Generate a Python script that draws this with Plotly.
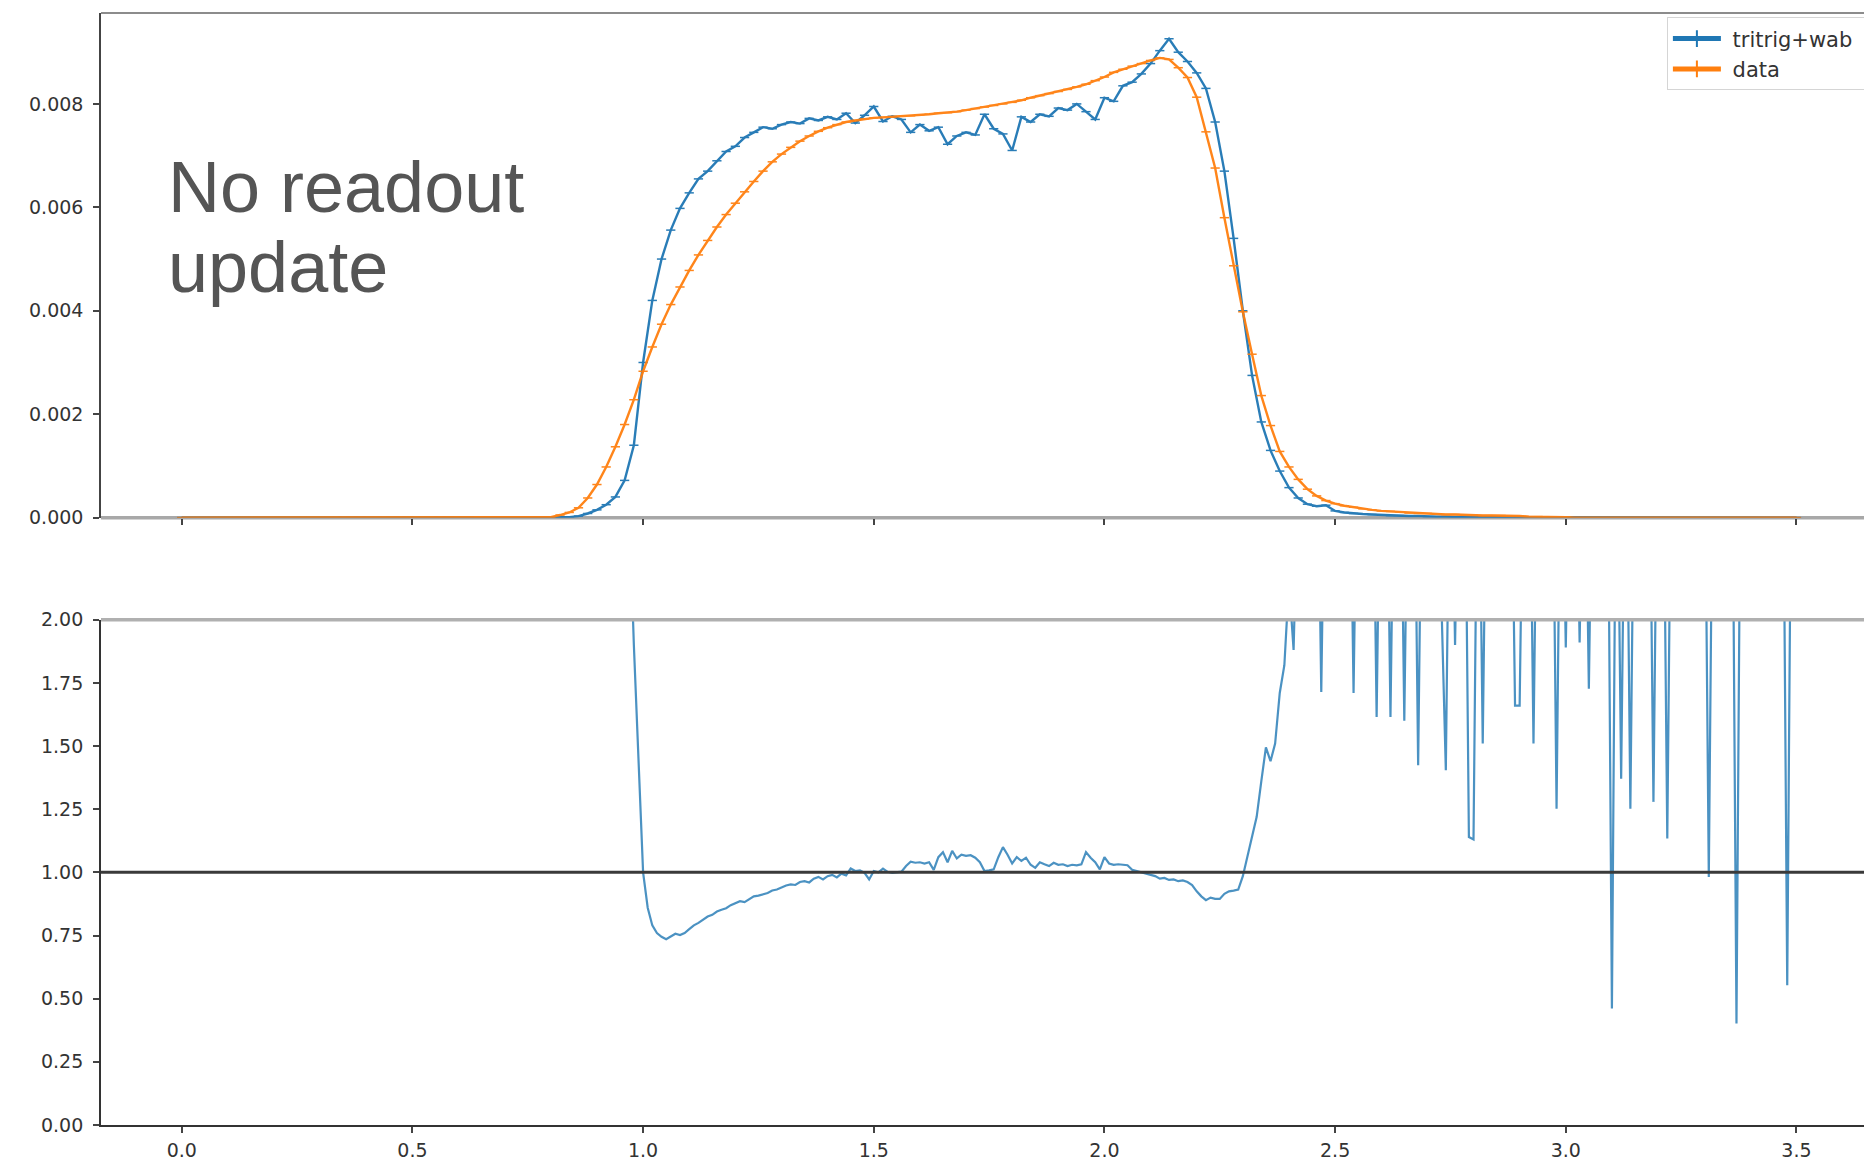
import plotly.graph_objects as go

BLUE = "#1f77b4"
ORANGE = "#ff7f0e"

# ---- upper panel: normalised energy histograms (bin width 0.02) ----
bin_width = 0.02
energy = [round(k * bin_width, 2) for k in range(176)]  # bin centres 0.00 ... 3.50

# tritrig+wab simulation
mc_hist = (
    [0.0] * 42  # 0.00 - 0.82
    + [0.00001, 0.00003, 0.00008, 0.00015, 0.00025, 0.00040, 0.00072, 0.00140, 0.00300, 0.00420]  # 0.84 - 1.02
    + [0.00500, 0.00556, 0.00598, 0.00628, 0.00655, 0.00670, 0.00690, 0.00708, 0.00718, 0.00735]  # 1.04 - 1.22
    + [0.00745, 0.00755, 0.00752, 0.00760, 0.00765, 0.00762, 0.00772, 0.00768, 0.00775, 0.00770]  # 1.24 - 1.42
    + [0.00782, 0.00763, 0.00778, 0.00795, 0.00766, 0.00776, 0.00770, 0.00745, 0.00760, 0.00748]  # 1.44 - 1.62
    + [0.00755, 0.00722, 0.00738, 0.00745, 0.00740, 0.00780, 0.00752, 0.00742, 0.00710, 0.00775]  # 1.64 - 1.82
    + [0.00765, 0.00780, 0.00776, 0.00792, 0.00788, 0.00800, 0.00785, 0.00770, 0.00812, 0.00805]  # 1.84 - 2.02
    + [0.00835, 0.00842, 0.00858, 0.00878, 0.00903, 0.00926, 0.00900, 0.00882, 0.00860, 0.00830]  # 2.04 - 2.22
    + [0.00765, 0.00670, 0.00540, 0.00400, 0.00275, 0.00185, 0.00130, 0.00090, 0.00058, 0.00038]  # 2.24 - 2.42
    + [0.00026, 0.00022, 0.00024, 0.00013, 0.00010, 0.00008, 0.00007, 0.00006, 0.00005, 0.00004]  # 2.44 - 2.62
    + [0.00004, 0.00003, 0.00003, 0.00002, 0.00002, 0.00002, 0.00001, 0.00001, 0.00001, 0.00001]  # 2.64 - 2.82
    + [0.0] * 34  # 2.84 - 3.50
)

# recorded data
data_hist = (
    [0.0] * 40  # 0.00 - 0.78
    + [0.00001, 0.00005, 0.00010, 0.00019, 0.00038, 0.00064, 0.00098, 0.00137, 0.00180, 0.00228]  # 0.80 - 0.98
    + [0.00283, 0.00330, 0.00374, 0.00412, 0.00446, 0.00478, 0.00508, 0.00536, 0.00562, 0.00586]  # 1.00 - 1.18
    + [0.00608, 0.00630, 0.00650, 0.00670, 0.00688, 0.00703, 0.00716, 0.00728, 0.00738, 0.00747]  # 1.20 - 1.38
    + [0.00754, 0.00760, 0.00765, 0.00768, 0.00771, 0.00773, 0.00774, 0.00775, 0.00776, 0.00777]  # 1.40 - 1.58
    + [0.00779, 0.00780, 0.00782, 0.00783, 0.00785, 0.00788, 0.00791, 0.00794, 0.00797, 0.00800]  # 1.60 - 1.78
    + [0.00803, 0.00807, 0.00812, 0.00816, 0.00820, 0.00824, 0.00828, 0.00833, 0.00838, 0.00845]  # 1.80 - 1.98
    + [0.00852, 0.00861, 0.00867, 0.00873, 0.00878, 0.00884, 0.00889, 0.00886, 0.00870, 0.00851]  # 2.00 - 2.18
    + [0.00813, 0.00746, 0.00676, 0.00580, 0.00487, 0.00398, 0.00316, 0.00236, 0.00178, 0.00128]  # 2.20 - 2.38
    + [0.00098, 0.00074, 0.00055, 0.00042, 0.00033, 0.00027, 0.00023, 0.00020, 0.00017, 0.00015]  # 2.40 - 2.58
    + [0.00013, 0.00012, 0.00011, 0.00009, 0.00008, 0.00008, 0.00007, 0.00006, 0.00006, 0.00005]  # 2.60 - 2.78
    + [0.00005, 0.00004, 0.00004, 0.00004, 0.00003, 0.00003, 0.00002, 0.00002, 0.00001, 0.00001]  # 2.80 - 2.98
    + [0.00001] + [0.0] * 25  # 3.00 - 3.50
)

# ---- lower panel: data / simulation ratio (bin width 0.01, from 0.96) ----
ratio_start = 0.96
ratio_step = 0.01
ratio_vals = (
    [3.0, 2.45, 1.90, 1.45]  # 0.96 - 0.99
    + [1.00, 0.86, 0.79, 0.76, 0.745, 0.735, 0.745, 0.757, 0.752, 0.760]
    + [0.775, 0.790, 0.800, 0.812, 0.825, 0.832, 0.845, 0.852, 0.858, 0.870]
    + [0.878, 0.886, 0.882, 0.895, 0.905, 0.908, 0.912, 0.918, 0.928, 0.932]
    + [0.940, 0.948, 0.952, 0.950, 0.962, 0.965, 0.960, 0.975, 0.982, 0.972]
    + [0.985, 0.990, 0.980, 0.995, 0.988, 1.015, 1.005, 1.008, 0.998, 0.972]
    + [1.005, 1.000, 1.015, 1.002, 0.998, 1.000, 1.003, 1.025, 1.042, 1.038]
    + [1.040, 1.035, 1.040, 1.010, 1.060, 1.080, 1.040, 1.085, 1.055, 1.070]
    + [1.065, 1.068, 1.058, 1.040, 1.005, 1.008, 1.012, 1.060, 1.100, 1.070]
    + [1.035, 1.060, 1.045, 1.058, 1.030, 1.018, 1.040, 1.032, 1.025, 1.038]
    + [1.030, 1.032, 1.025, 1.030, 1.028, 1.032, 1.080, 1.058, 1.040, 1.012]
    + [1.060, 1.035, 1.030, 1.032, 1.030, 1.028, 1.010, 1.005, 1.000, 0.995]
    + [0.990, 0.985, 0.975, 0.978, 0.970, 0.972, 0.965, 0.968, 0.962, 0.950]
    + [0.925, 0.905, 0.890, 0.900, 0.895, 0.895, 0.915, 0.925, 0.928, 0.932]
    + [0.985, 1.060, 1.140, 1.220, 1.360, 1.495, 1.440, 1.510, 1.710, 1.820]
    + [2.15, 1.88, 2.6, 3.0, 3.0, 3.0, 3.0, 1.714, 3.0, 3.0]
    + [3.0, 3.0, 3.0, 3.0, 1.71, 3.0, 3.0, 3.0, 3.0, 1.615]
    + [3.0, 3.0, 1.615, 3.0, 3.0, 1.60, 3.0, 3.0, 1.424, 3.0]
    + [3.0, 3.0, 3.0, 2.1, 1.404, 3.0, 1.90, 3.0, 3.0, 1.14]
    + [1.13, 3.0, 1.51, 3.0, 3.0, 3.0, 3.0, 3.0, 3.0, 1.66]
    + [1.66, 3.0, 3.0, 1.51, 3.0, 3.0, 3.0, 3.0, 1.252, 3.0]
    + [1.89, 3.0, 3.0, 1.91, 3.0, 1.727, 3.0, 3.0, 3.0, 3.0]
    + [0.461, 3.0, 1.371, 3.0, 1.252, 3.0, 3.0, 3.0, 3.0, 1.279]
    + [3.0, 3.0, 1.134, 3.0, 3.0, 3.0, 3.0, 3.0, 3.0, 3.0]
    + [3.0, 0.982, 3.0, 3.0, 3.0, 3.0, 3.0, 0.402, 3.0, 3.0]
    + [3.0, 3.0, 3.0, 3.0, 3.0, 3.0, 3.0, 3.0, 0.553, 3.0]
    + [3.0]
)
ratio_energy = [round(ratio_start + k * ratio_step, 2) for k in range(len(ratio_vals))]
ratio_ref = 1.0

x_ticks = [0.0, 0.5, 1.0, 1.5, 2.0, 2.5, 3.0, 3.5]
top_ticks = [0.0, 0.002, 0.004, 0.006, 0.008]
ratio_ticks = [0.0, 0.25, 0.5, 0.75, 1.0, 1.25, 1.5, 1.75, 2.0]

fig = go.Figure()

for name, vals, col in [("tritrig+wab", mc_hist, BLUE), ("data", data_hist, ORANGE)]:
    fig.add_trace(go.Scatter(
        x=energy, y=vals, mode="lines", xaxis="x", yaxis="y",
        line=dict(color=col, width=2.4),
        error_x=dict(type="constant", value=bin_width / 2, color=col, thickness=1.5, width=0),
        opacity=0.95, showlegend=False, hoverinfo="skip",
    ))
    # legend entry drawn as a line with a vertical bar (errorbar style)
    fig.add_trace(go.Scatter(
        x=[None], y=[None], mode="lines+markers", name="\u00a0" + name + "\u00a0",
        xaxis="x", yaxis="y",
        line=dict(color=col, width=2.5),
        marker=dict(symbol="line-ns", size=16, color=col, line=dict(color=col, width=2.5)),
    ))

fig.add_trace(go.Scatter(
    x=ratio_energy, y=ratio_vals, mode="lines", xaxis="x2", yaxis="y2",
    line=dict(color=BLUE, width=2.2), opacity=0.8, showlegend=False, hoverinfo="skip",
))

tick_font = dict(family="DejaVu Sans", size=19, color="#333333")
x_range = [-0.175, 3.6464]

fig.update_layout(
    width=1864, height=1165,
    margin=dict(l=101.2, r=0, t=12.5, b=40.2, autoexpand=False),
    paper_bgcolor="white", plot_bgcolor="white",
    font=dict(family="DejaVu Sans", size=19, color="#333333"),
    xaxis=dict(domain=[0, 1], anchor="y", range=x_range, tickvals=x_ticks,
               showticklabels=False, ticks="outside", ticklen=6, tickwidth=1.5,
               tickcolor="#444444", showline=False, showgrid=False, zeroline=False),
    yaxis=dict(domain=[0.5462, 1], anchor="x", range=[0, 0.009758], tickvals=top_ticks,
               tickformat=".3f", ticks="outside", ticklen=6, tickwidth=1.5,
               tickcolor="#444444", showline=True, linecolor="#444444", linewidth=1.5,
               showgrid=False, zeroline=False, tickfont=tick_font, ticklabelstandoff=6),
    xaxis2=dict(domain=[0, 1], anchor="y2", range=x_range, tickvals=x_ticks,
                tickformat=".1f", ticks="outside", ticklen=6, tickwidth=1.5,
                tickcolor="#444444", showline=True, linecolor="#333333", linewidth=2,
                showgrid=False, zeroline=False, tickfont=tick_font, ticklabelstandoff=1),
    yaxis2=dict(domain=[0, 0.4544], anchor="x2", range=[0, 2], tickvals=ratio_ticks,
                tickformat=".2f", ticks="outside", ticklen=6, tickwidth=1.5,
                tickcolor="#444444", showline=True, linecolor="#333333", linewidth=1.8,
                showgrid=False, zeroline=False, tickfont=tick_font, ticklabelstandoff=6),
    legend=dict(x=0.8882, y=0.996, xanchor="left", yanchor="top",
                bgcolor="rgba(255,255,255,0.8)", bordercolor="#d5d5d5", borderwidth=1,
                font=dict(family="DejaVu Sans", size=21, color="#333333"),
                itemsizing="constant", itemwidth=48, tracegroupgap=0),
    shapes=[
        # upper panel frame: top edge and zero baseline
        dict(type="line", xref="x domain", yref="y domain", x0=0, x1=1, y0=1, y1=1,
             line=dict(color="#666666", width=1.5)),
        dict(type="line", xref="x domain", yref="y domain", x0=0, x1=1, y0=0, y1=0,
             line=dict(color="#a8a8a8", width=3.5), layer="below"),
        # lower panel top edge
        dict(type="line", xref="x2 domain", yref="y2 domain", x0=0, x1=1, y0=1, y1=1,
             line=dict(color="#b0b0b0", width=3.5)),
        # unit ratio reference
        dict(type="line", xref="x2 domain", yref="y2", x0=0, x1=1, y0=ratio_ref, y1=ratio_ref,
             line=dict(color="#3a3a3a", width=3), layer="above"),
    ],
    annotations=[
        dict(text="No readout", xref="x domain", yref="y domain", x=0.0368, y=0.6543,
             xanchor="left", yanchor="middle", showarrow=False,
             font=dict(family="Liberation Sans, Arial", size=72, color="#555555")),
        dict(text="update", xref="x domain", yref="y domain", x=0.0368, y=0.4967,
             xanchor="left", yanchor="middle", showarrow=False,
             font=dict(family="Liberation Sans, Arial", size=72, color="#555555")),
    ],
)

fig.write_html("out.html")
